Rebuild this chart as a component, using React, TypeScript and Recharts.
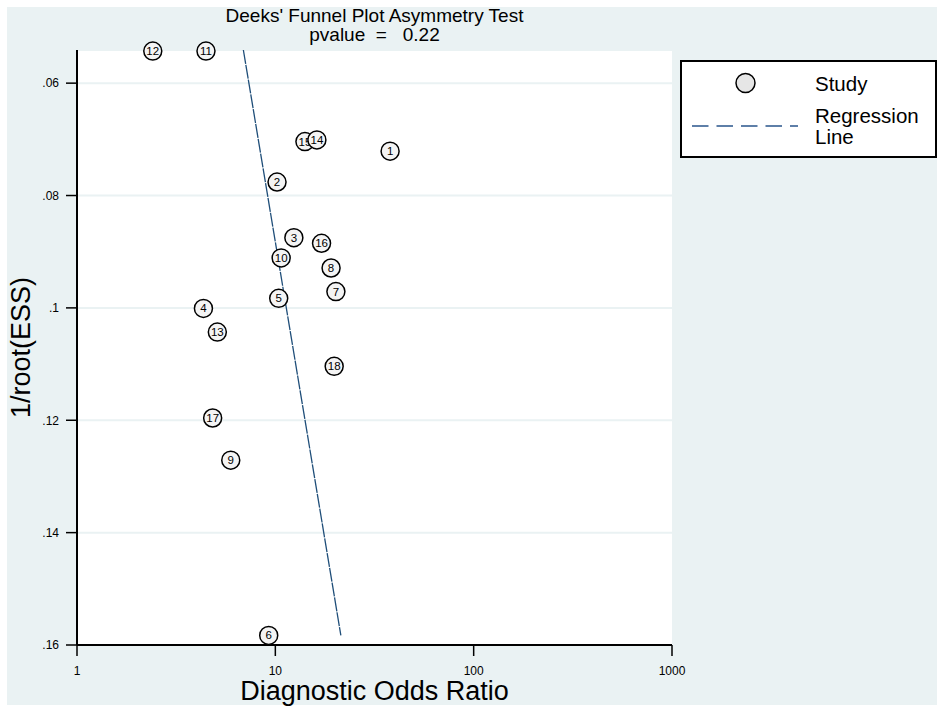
import { CartesianGrid, Legend, Scatter, ScatterChart, XAxis, YAxis } from "recharts";

const studyIds = [1, 2, 3, 4, 5, 6, 7, 8, 9, 10, 11, 12, 13, 15, 14, 16, 17, 18];
const dor = [37.9, 10.2, 12.4, 4.34, 10.4, 9.26, 20.2, 19.1, 5.96, 10.7, 4.47, 2.41, 5.1, 14.1, 16.2, 17.1, 4.83, 19.8];
const invRootEss = [
  0.0721, 0.0776, 0.0875, 0.1001, 0.0983, 0.1583, 0.0971, 0.0929, 0.1271, 0.0911, 0.0543, 0.0543, 0.1043, 0.0704,
  0.0701, 0.0885, 0.1196, 0.1104,
];

const regDor = [6.9, 21.4];
const regY = [0.0541, 0.1583];

const xTicks = [1, 10, 100, 1000];
const yTicks = [0.06, 0.08, 0.1, 0.12, 0.14, 0.16];

const studies = studyIds.map((id, i) => ({ id, x: dor[i], y: invRootEss[i] }));
const regLine = regDor.map((x, i) => ({ x, y: regY[i] }));

const FONT = "'Liberation Sans', Arial, sans-serif";

function StudyMarker(props: any) {
  const { cx, cy, payload } = props;
  if (cx == null || cy == null) return <g />;
  return (
    <g>
      <circle cx={cx} cy={cy} r={9} fill="#f4f4f4" stroke="#000" strokeWidth={1.5} />
      <text x={cx} y={cy + 4} textAnchor="middle" fontSize={11.5} fontFamily={FONT} fill="#000">
        {payload.id}
      </text>
    </g>
  );
}

function LegendBox() {
  return (
    <svg width={258} height={99} style={{ display: "block" }}>
      <rect x={1} y={1} width={255} height={96} fill="#fff" stroke="#000" strokeWidth={2} />
      <circle cx={65.5} cy={23} r={9.5} fill="#e6e6e6" stroke="#000" strokeWidth={1.5} />
      <text x={135} y={31} fontSize={20.5} fontFamily={FONT} fill="#000">
        Study
      </text>
      <line x1={12} x2={118} y1={66} y2={66} stroke="#5e7fa8" strokeWidth={2} strokeDasharray="16.5 8" />
      <text x={135} y={62.5} fontSize={20.5} fontFamily={FONT} fill="#000">
        Regression
      </text>
      <text x={135} y={84} fontSize={20.5} fontFamily={FONT} fill="#000">
        Line
      </text>
    </svg>
  );
}

export default function App() {
  return (
    <div style={{ position: "absolute", left: 0, top: 0, width: 945, height: 713, background: "#fff" }}>
      <div style={{ position: "absolute", left: 7, top: 7, width: 930, height: 698, background: "#eaf2f3" }} />
      <div style={{ position: "absolute", left: 0, top: 0 }}>
        <ScatterChart width={945} height={713} margin={{ top: 50, right: 273, bottom: 8, left: 7 }}>
          <CartesianGrid horizontal vertical={false} fill="#fff" stroke="#eaf2f3" strokeWidth={2} />
          <XAxis
            type="number"
            dataKey="x"
            scale="log"
            domain={[1, 1000]}
            ticks={xTicks}
            height={60}
            tickSize={11}
            tickMargin={10}
            axisLine={{ stroke: "#000", strokeWidth: 2 }}
            tickLine={{ stroke: "#000", strokeWidth: 1.5 }}
            tick={{ fill: "#000", fontSize: 12, fontFamily: FONT }}
            label={{
              value: "Diagnostic Odds Ratio",
              position: "insideBottom",
              offset: 5,
              fontSize: 27,
              fontFamily: FONT,
              fill: "#000",
            }}
          />
          <YAxis
            type="number"
            dataKey="y"
            reversed
            domain={[0.0541, 0.16]}
            ticks={yTicks}
            width={70}
            tickSize={11}
            tickMargin={7}
            tickFormatter={(v: number) => String(Number(v.toFixed(2))).replace(/^0/, "")}
            axisLine={{ stroke: "#000", strokeWidth: 2 }}
            tickLine={{ stroke: "#000", strokeWidth: 1.5 }}
            tick={{ fill: "#000", fontSize: 12, fontFamily: FONT }}
            label={{
              value: "1/root(ESS)",
              angle: -90,
              position: "insideLeft",
              offset: 13,
              fontSize: 27,
              fontFamily: FONT,
              fill: "#000",
              style: { textAnchor: "middle" },
            }}
          />
          <Scatter
            data={regLine}
            line={{ stroke: "#1f4e79", strokeWidth: 1.3, strokeDasharray: "14 1" }}
            shape={() => <g />}
            legendType="none"
            isAnimationActive={false}
          />
          <Scatter data={studies} shape={StudyMarker} isAnimationActive={false} />
          <Legend
            layout="horizontal"
            verticalAlign="middle"
            align="center"
            wrapperStyle={{ position: "absolute", left: 680, top: 60, width: 258, height: 99 }}
            content={() => <LegendBox />}
          />
          <text x={374.5} y={21.7} textAnchor="middle" fontSize={19} fontFamily={FONT} fill="#000">
            Deeks' Funnel Plot Asymmetry Test
          </text>
          <text
            x={374.5}
            y={41}
            textAnchor="middle"
            fontSize={19}
            fontFamily={FONT}
            fill="#000"
            xmlSpace="preserve"
            style={{ whiteSpace: "pre" }}
          >
            {"pvalue  =   0.22"}
          </text>
        </ScatterChart>
      </div>
    </div>
  );
}
